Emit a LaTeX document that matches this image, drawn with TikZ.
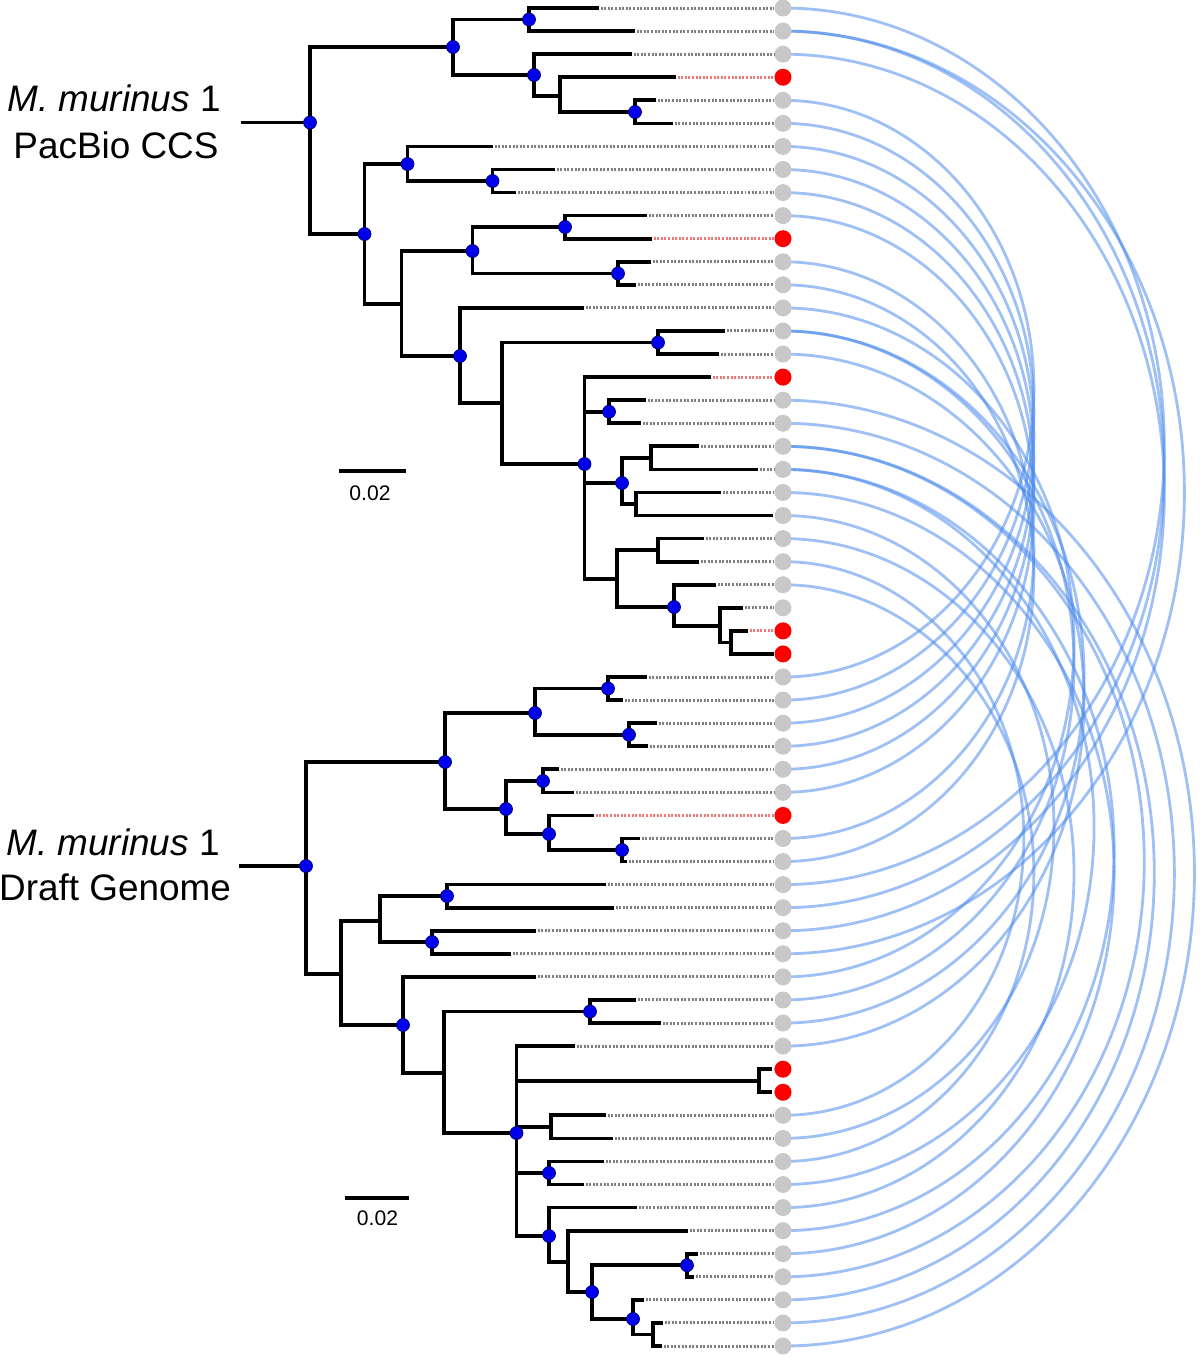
\documentclass[tikz,border=0pt]{standalone}
\usepackage{fontspec}
\setmainfont{Liberation Sans}
\usetikzlibrary{calc,backgrounds}
\definecolor{tipgrey}{RGB}{200,200,200}
\definecolor{leadgrey}{RGB}{128,128,128}
\definecolor{leadred}{RGB}{240,120,120}
\definecolor{linkblue}{RGB}{70,135,235}
\definecolor{dotblue}{RGB}{0,0,235}

\begin{document}
\begin{tikzpicture}[
  x=0.02cm, y=-0.02cm,
  branch/.style={line width=2.1pt, line cap=rect},
  bdot/.style={circle, fill=dotblue, draw={rgb,255:red,0;green,0;blue,110}, line width=0.4pt,
               inner sep=0pt, minimum size=0.26cm},
  greytip/.style={circle, fill=tipgrey, inner sep=0pt, minimum size=0.34cm},
  redtip/.style={circle, fill=red, inner sep=0pt, minimum size=0.34cm},
  greytipline/.style={draw=leadgrey, line width=1.7pt, dash pattern=on 1.1pt off 0.95pt},
  redtipline/.style={draw=leadred, line width=1.7pt, dash pattern=on 1.1pt off 0.95pt},
  link/.style={draw=linkblue, draw opacity=0.52, line width=1.6pt},
  lbl/.style={font=\fontsize{21}{25}\selectfont, inner sep=0pt},
  barlbl/.style={font=\fontsize{12}{14}\selectfont, inner sep=0pt},
  bar/.style={line width=2.1pt}
]
\useasboundingbox (0,0) rectangle (1200,1357);

% tip ends and tip circles
\foreach \xe/\kind [count=\i from 0] in {
  597/greytip, 633/greytip, 630/greytip, 674/redtip, 654/greytip, 671/greytip,
  491/greytip, 553/greytip, 514/greytip, 645/greytip, 650/redtip, 649/greytip,
  634/greytip, 582/greytip, 723/greytip, 717/greytip, 709/redtip, 644/greytip,
  639/greytip, 697/greytip, 756/greytip, 719/greytip, 771/greytip, 702/greytip,
  697/greytip, 714/greytip, 741/greytip, 746/redtip, 772/redtip,
  645/greytip, 621/greytip, 655/greytip, 646/greytip, 557/greytip, 572/greytip,
  592/redtip, 638/greytip, 625/greytip, 604/greytip, 612/greytip, 534/greytip,
  509/greytip, 534/greytip, 634/greytip, 659/greytip, 573/greytip, 770/redtip,
  770/redtip, 604/greytip, 611/greytip, 602/greytip, 582/greytip, 635/greytip,
  686/greytip, 696/greytip, 692/greytip, 642/greytip, 661/greytip, 660/greytip}
{
  \coordinate (e\i) at (\xe, {8+23.069*\i});
  \node[\kind] (c\i) at (783, {8+23.069*\i}) {};
  \draw[\kind line] (e\i) -- (c\i);
}

% top tree
\coordinate (tstem) at (243,122.5);
\coordinate (troot) at (310,122.5);
\coordinate (TA) at (453,47);
\coordinate (TA1) at (529,19.5);
\coordinate (TA2) at (534,75);
\coordinate (TA2b) at (560,96);
\coordinate (TA2c) at (635,112);
\coordinate (TB) at (364.5,234);
\coordinate (TB1) at (407.5,164);
\coordinate (TB1b) at (492.5,181);
\coordinate (TB2) at (401.6,304);
\coordinate (TB3) at (472.5,251);
\coordinate (TB3a) at (565,227);
\coordinate (TB3b) at (618,273.5);
\coordinate (TB4) at (460,356);
\coordinate (TB5) at (502,403);
\coordinate (TB5a) at (658,342.5);
\coordinate (TB6) at (584.5,464);
\coordinate (TB6a) at (609,411.7);
\coordinate (TB6b) at (622,483);
\coordinate (TB6b1) at (651,458);
\coordinate (TB6b2) at (636,504);
\coordinate (TB6c) at (617,579);
\coordinate (TB6c1) at (658,550);
\coordinate (TB6c2) at (674,607);
\coordinate (TB6c3) at (720,626);
\coordinate (TB6c4) at (731,642.4);

% bottom tree
\coordinate (bstem) at (241,866);
\coordinate (broot) at (306,866);
\coordinate (BA) at (445,762);
\coordinate (BA1) at (535,713);
\coordinate (BA1a) at (608,688.5);
\coordinate (BA1b) at (629,734.7);
\coordinate (BA2) at (506,809);
\coordinate (BA2a) at (543,781);
\coordinate (BA2b) at (549,834);
\coordinate (BA2c) at (622,850);
\coordinate (BB) at (341,974);
\coordinate (BB1) at (380,921);
\coordinate (BB1a) at (447,896);
\coordinate (BB1b) at (432,942);
\coordinate (BB2) at (403,1025);
\coordinate (BB3) at (444,1073);
\coordinate (BB3a) at (590,1011.5);
\coordinate (BB4) at (516.5,1133);
\coordinate (BB4a) at (759,1080.7);
\coordinate (BB4b) at (551,1127);
\coordinate (BB4c) at (549,1173);
\coordinate (BB4d) at (549,1236);
\coordinate (BB5) at (568,1262);
\coordinate (BB6) at (592,1292);
\coordinate (BB6a) at (687,1265.3);
\coordinate (BB6b) at (633,1319);
\coordinate (BB6c) at (653,1334.5);

\draw[branch] (tstem) -- (troot);
\draw[branch] (bstem) -- (broot);
\foreach \p/\c in {troot/TA, troot/TB, TA/TA1, TA/TA2, TA1/e0, TA1/e1,
  TA2/e2, TA2/TA2b, TA2b/e3, TA2b/TA2c, TA2c/e4, TA2c/e5,
  TB/TB1, TB/TB2, TB1/e6, TB1/TB1b, TB1b/e7, TB1b/e8,
  TB2/TB3, TB2/TB4, TB3/TB3a, TB3/TB3b, TB3a/e9, TB3a/e10, TB3b/e11, TB3b/e12,
  TB4/e13, TB4/TB5, TB5/TB5a, TB5/TB6, TB5a/e14, TB5a/e15,
  TB6/e16, TB6/TB6a, TB6/TB6b, TB6/TB6c, TB6a/e17, TB6a/e18,
  TB6b/TB6b1, TB6b/TB6b2, TB6b1/e19, TB6b1/e20, TB6b2/e21, TB6b2/e22,
  TB6c/TB6c1, TB6c/TB6c2, TB6c1/e23, TB6c1/e24, TB6c2/e25, TB6c2/TB6c3,
  TB6c3/e26, TB6c3/TB6c4, TB6c4/e27, TB6c4/e28,
  broot/BA, broot/BB, BA/BA1, BA/BA2, BA1/BA1a, BA1/BA1b,
  BA1a/e29, BA1a/e30, BA1b/e31, BA1b/e32, BA2/BA2a, BA2/BA2b,
  BA2a/e33, BA2a/e34, BA2b/e35, BA2b/BA2c, BA2c/e36, BA2c/e37,
  BB/BB1, BB/BB2, BB1/BB1a, BB1/BB1b, BB1a/e38, BB1a/e39, BB1b/e40, BB1b/e41,
  BB2/e42, BB2/BB3, BB3/BB3a, BB3/BB4, BB3a/e43, BB3a/e44,
  BB4/e45, BB4/BB4a, BB4/BB4b, BB4/BB4c, BB4/BB4d,
  BB4a/e46, BB4a/e47, BB4b/e48, BB4b/e49, BB4c/e50, BB4c/e51,
  BB4d/e52, BB4d/BB5, BB5/e53, BB5/BB6, BB6/BB6a, BB6/BB6b,
  BB6a/e54, BB6a/e55, BB6b/e56, BB6b/BB6c, BB6c/e57, BB6c/e58}
  \draw[branch] (\p) |- (\c);

% supported nodes
\foreach \n in {troot, TA, TA1, TA2, TA2c, TB, TB1, TB1b, TB3, TB3a, TB3b, TB4,
  TB5a, TB6, TB6a, TB6b, TB6c2, broot, BA, BA1, BA1a, BA1b, BA2, BA2a, BA2b,
  BA2c, BB1a, BB1b, BB2, BB3a, BB4, BB4c, BB4d, BB6, BB6a, BB6b}
  \node[bdot] (d\n) at (\n) {};

% links between the two assemblies
\begin{scope}[on background layer]
\foreach \t/\b in {0/38, 1/39, 2/40, 1/41, 4/29, 5/30, 6/31, 7/32, 8/33, 9/34,
  11/36, 12/37, 13/42, 14/43, 14/44, 15/45, 17/58, 18/57, 19/56, 19/55, 20/53,
  20/51, 21/54, 22/49, 23/52, 24/48, 25/50}
{
  \pgfmathsetmacro\hb{(\b-\t)*11.5345}
  \pgfmathsetmacro\ha{0.87*\hb}
  \pgfmathsetmacro\ka{0.5523*\ha}
  \pgfmathsetmacro\kb{0.5523*\hb}
  \draw[link] (c\t.center) .. controls +(\ka,0) and +(0,-\kb)
    .. ($(c\t.center)!0.5!(c\b.center)+(\ha,0)$)
    .. controls +(0,\kb) and +(\ka,0) .. (c\b.center);
}
\end{scope}

% scale bars
\coordinate (sbarTa) at (339,471);
\coordinate (sbarTb) at (406,471);
\draw[bar] (sbarTa) -- (sbarTb);
\node[barlbl, anchor=base] (sbarTlbl) at (370,500) {0.02};
\coordinate (sbarBa) at (345,1198);
\coordinate (sbarBb) at (409,1198);
\draw[bar] (sbarBa) -- (sbarBb);
\node[barlbl, anchor=base] (sbarBlbl) at (377.5,1225) {0.02};

% assembly labels
\node[lbl, anchor=base] (topnameA) at (114,111.7) {\textit{M. murinus} 1};
\node[lbl, anchor=base] (topnameB) at (116,158) {PacBio CCS};
\node[lbl, anchor=base] (botnameA) at (113,855) {\textit{M. murinus} 1};
\node[lbl, anchor=base] (botnameB) at (115,900) {Draft Genome};
\end{tikzpicture}
\end{document}
